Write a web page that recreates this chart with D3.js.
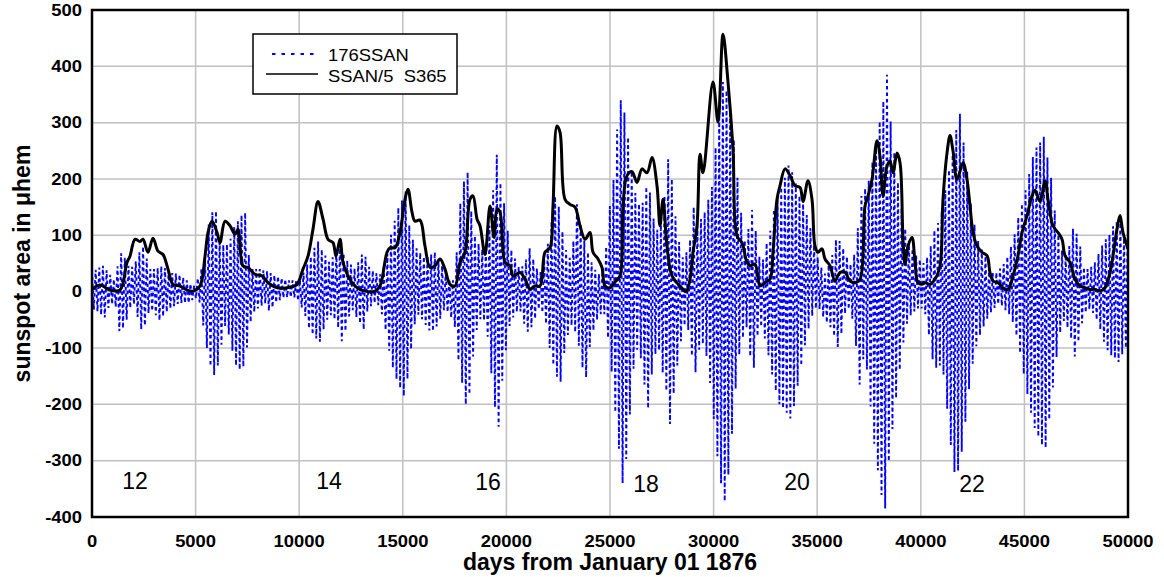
<!DOCTYPE html>
<html>
<head>
<meta charset="utf-8">
<script src="https://cdn.jsdelivr.net/npm/d3@7"></script>
<style>
  body { margin: 0; background: #fff; }
  text { font-family: Arial, "Liberation Sans", sans-serif; }
</style>
</head>
<body>
<svg id="chart" width="1164" height="577"></svg>
<script>

// S365 smoothed series (SSAN/5), [day, value]
var s365Points = [
  [0,4],[386,12],[869,3],[1351,3],[1689,52],[1834,63],[2075,93],[2317,89],
  [2461,93],[2703,70],[2944,95],[3185,72],[3427,66],[3668,40],[3909,13],
  [4247,10],[4585,3],[4875,1],[5212,10],[5454,63],[5599,105],[5792,125],
  [6033,105],[6178,87],[6419,125],[6660,117],[6902,102],[7046,111],[7288,46],
  [7529,43],[7867,31],[8205,28],[8494,16],[8832,8],[9170,6],[9556,8],[9894,13],
  [10183,40],[10425,63],[10666,111],[10907,160],[11149,129],[11390,93],
  [11631,87],[11776,63],[11969,93],[12114,52],[12355,28],[12693,10],[13176,1],
  [13658,1],[13900,10],[14238,70],[14382,78],[14624,78],[14865,105],
  [15106,164],[15251,182],[15444,141],[15589,125],[15830,127],[16071,81],
  [16313,43],[16554,46],[16796,58],[17037,40],[17278,13],[17519,10],[17761,52],
  [18002,70],[18243,164],[18388,170],[18581,129],[18726,117],[18967,66],
  [19209,152],[19402,96],[19547,147],[19692,141],[19933,52],[20174,46],
  [20319,28],[20657,34],[20898,22],[21139,4],[21381,10],[21622,10],[21863,70],
  [22104,78],[22249,152],[22442,294],[22587,283],[22828,164],[23070,155],
  [23311,150],[23552,117],[23794,93],[24035,105],[24180,70],[24421,58],
  [24614,43],[24759,10],[25000,7],[25242,17],[25483,28],[25628,152],
  [25821,206],[26062,213],[26303,194],[26545,218],[26786,211],[27027,238],
  [27269,188],[27413,117],[27558,164],[27751,81],[27993,28],[28379,10],
  [28668,0],[28861,22],[29006,70],[29199,117],[29344,244],[29489,211],
  [29971,372],[30213,301],[30454,457],[30695,372],[30937,253],[31130,99],
  [31371,87],[31612,52],[31757,46],[31998,49],[32240,10],[32481,16],[32722,22],
  [32867,70],[33060,164],[33205,188],[33446,218],[33688,206],[33929,188],
  [34170,185],[34315,160],[34556,197],[34749,164],[34894,81],[35039,70],
  [35232,76],[35377,58],[35618,46],[35859,19],[36101,34],[36342,34],[36583,19],
  [36825,16],[37066,22],[37307,152],[37452,170],[37645,199],[37886,268],
  [38031,240],[38176,170],[38369,223],[38514,232],[38659,211],[38852,246],
  [38997,229],[39141,93],[39238,49],[39383,81],[39576,96],[39720,52],
  [39865,16],[40058,13],[40203,16],[40444,13],[40686,22],[40927,46],
  [41072,164],[41265,246],[41410,277],[41554,250],[41747,199],[42037,229],
  [42230,199],[42375,152],[42520,105],[42713,81],[42954,70],[43195,64],
  [43340,34],[43485,19],[43726,16],[43968,7],[44209,4],[44450,28],[44692,64],
  [44885,105],[45126,135],[45367,170],[45512,180],[45753,160],[45995,197],
  [46139,164],[46381,117],[46622,105],[46815,93],[46960,64],[47201,52],
  [47443,22],[47684,10],[47925,7],[48166,4],[48408,4],[48649,1],[48891,7],
  [49132,34],[49277,64],[49470,111],[49614,135],[49759,105],[50000,76]
];

// 176SSAN: one crest and one trough every 176 days
var ssanStep = 176;
var ssanCrests = [
  37,39,43,46,38,30,22,45,68,60, 46,44,54,70,80,59,40,40,42,45,
  42,36,33,32,30,25,20,14,11,24, 41,62,119,141,143,94,83,84,94,115,
  125,136,140,65,40,40,40,38,36,33, 29,27,24,22,20,20,20,20,34,48,
  62,78,89,75,64,53,61,75,89,68, 55,48,41,52,66,62,44,37,33,31,
  46,67,101,126,149,162,178,118,92,77, 69,62,63,66,70,55,46,36,22,20,
  70,157,196,212,143,99,85,75,81,117, 180,243,193,157,108,74,59,44,45,57,
  77,58,41,35,57,85,125,169,151,107, 74,60,90,155,120,91,70,52,39,31,
  42,80,152,198,288,340,318,274,213,175, 156,158,186,176,130,110,118,170,235,200,
  134,88,61,70,92,150,121,129,141,163, 186,256,325,372,357,320,270,202,140,91,
  111,145,108,62,57,86,108,146,168,185, 202,224,212,192,170,156,136,113,83,61,
  43,32,47,65,92,90,77,62,49,66, 113,170,183,197,230,266,302,338,385,302,
  247,194,148,112,90,76,64,57,51,61, 81,109,122,143,180,216,243,287,316,265,
  213,156,119,90,75,63,41,33,34,41, 49,62,80,102,132,156,180,209,239,256,
  265,275,238,202,144,101,73,66,81,112, 103,80,43,40,44,52,67,82,93,101,
  116,125,128,101,95
];
var ssanTroughs = [
  -32,-35,-41,-46,-29,-22,-27,-70,-65,-50, -29,-22,-45,-67,-60,-38,-34,-42,-51,-44,
  -36,-30,-26,-22,-20,-20,-20,-15,-12,-19, -60,-100,-132,-148,-131,-94,-61,-76,-105,-131,
  -138,-133,-99,-54,-36,-30,-25,-21,-34,-28, -19,-15,-11,-10,-10,-10,-16,-28,-43,-65,
  -76,-83,-89,-67,-50,-42,-49,-64,-88,-70, -44,-33,-45,-56,-67,-35,-26,-20,-24,-40,
  -68,-105,-135,-155,-171,-185,-155,-102,-58,-41, -49,-59,-69,-70,-62,-48,-33,-36,-46,-63,
  -122,-162,-200,-182,-115,-68,-49,-51,-80,-145, -205,-240,-158,-104,-61,-46,-36,-35,-57,-71,
  -63,-48,-31,-37,-57,-100,-130,-151,-160,-109, -77,-60,-72,-96,-135,-152,-98,-69,-50,-40,
  -40,-82,-142,-214,-279,-340,-297,-218,-137,-103, -118,-165,-207,-147,-111,-104,-144,-176,-235,-181,
  -131,-88,-60,-68,-114,-143,-103,-93,-114,-162, -226,-292,-340,-372,-325,-252,-172,-112,-82,-63,
  -115,-135,-79,-62,-83,-113,-147,-176,-200,-207, -215,-225,-203,-167,-131,-95,-66,-43,-30,-31,
  -45,-55,-63,-79,-98,-75,-39,-31,-48,-96, -165,-120,-138,-204,-270,-317,-361,-385,-301,-244,
  -189,-139,-90,-57,-42,-35,-30,-30,-40,-77, -120,-135,-131,-147,-208,-272,-320,-318,-284,-231,
  -173,-128,-97,-77,-62,-48,-37,-29,-22,-25, -33,-40,-54,-78,-109,-146,-182,-215,-242,-257,
  -272,-277,-227,-170,-116,-73,-52,-64,-83,-115, -89,-56,-37,-31,-38,-50,-67,-89,-104,-113,
  -118,-125,-111,-100
];

var xTicks = [0,5000,10000,15000,20000,25000,30000,35000,40000,45000,50000];
var yTicks = [-400,-300,-200,-100,0,100,200,300,400,500];

// solar cycle numbers
var cycleNames = ['12','14','16','18','20','22'];
var cycleDays = [2075,11438,19112,26737,34025,42471];
var cycleVals = [-351,-351,-352,-355,-352,-355];

var legendNames = ['176SSAN', 'SSAN/5  S365'];

var svg = d3.select('#chart');

var x = d3.scaleLinear().domain([0, 50000]).range([92, 1128]);
var y = d3.scaleLinear().domain([-400, 500]).range([517, 10]);

// text with the slight horizontal stretch of the original
function label(g, px, py, str, opts) {
  var t = g.append('text')
    .attr('transform', 'translate(' + px + ',' + py + ') scale(' +
      (opts.sx || 1) + ',1)')
    .attr('text-anchor', opts.anchor || 'start')
    .attr('font-size', opts.size)
    .attr('font-weight', opts.weight || 'normal')
    .style('white-space', 'pre')
    .text(str);
  if (opts.dy) t.attr('dy', opts.dy);
  return t;
}

// grid
var grid = svg.append('g').attr('stroke', '#c0c0c0').attr('stroke-width', 1.5);
grid.selectAll('.gx').data(xTicks.slice(1, -1)).enter().append('line')
  .attr('x1', function(d) { return x(d); }).attr('x2', function(d) { return x(d); })
  .attr('y1', y(500)).attr('y2', y(-400));
grid.selectAll('.gy').data(yTicks.slice(1, -1)).enter().append('line')
  .attr('x1', x(0)).attr('x2', x(50000))
  .attr('y1', function(d) { return y(d); }).attr('y2', function(d) { return y(d); });

svg.append('clipPath').attr('id', 'plot-clip').append('rect')
  .attr('x', x(0)).attr('y', y(500))
  .attr('width', x(50000) - x(0)).attr('height', y(-400) - y(500));

// 176SSAN zigzag
var ssanPoints = [];
ssanCrests.forEach(function(v, i) {
  ssanPoints.push([i * ssanStep, v]);
  if (i < ssanTroughs.length) ssanPoints.push([i * ssanStep + ssanStep / 2, ssanTroughs[i]]);
});

var line = d3.line()
  .x(function(d) { return x(d[0]); })
  .y(function(d) { return y(d[1]); });

var plot = svg.append('g').attr('clip-path', 'url(#plot-clip)');

plot.append('path')
  .datum(ssanPoints)
  .attr('d', line)
  .attr('fill', 'none')
  .attr('stroke', '#0000ff')
  .attr('stroke-width', 1.9)
  .attr('stroke-dasharray', '3.5,3');

plot.append('path')
  .datum(s365Points)
  .attr('d', line.curve(d3.curveCatmullRom.alpha(0.5)))
  .attr('fill', 'none')
  .attr('stroke', '#000')
  .attr('stroke-width', 3)
  .attr('stroke-linejoin', 'round');

// frame
svg.append('rect')
  .attr('x', x(0)).attr('y', y(500))
  .attr('width', x(50000) - x(0)).attr('height', y(-400) - y(500))
  .attr('fill', 'none').attr('stroke', '#000').attr('stroke-width', 2.5);

// tick labels
var axes = svg.append('g').attr('fill', '#000');
yTicks.forEach(function(d) {
  label(axes, 82, y(d), String(d),
    { anchor: 'end', size: 16, weight: 'bold', sx: 1.15, dy: '0.35em' });
});
xTicks.forEach(function(d) {
  label(axes, x(d), 547, String(d),
    { anchor: 'middle', size: 16, weight: 'bold', sx: 1.15 });
});

// axis titles
label(axes, 610, 570, 'days from January 01 1876',
  { anchor: 'middle', size: 23, weight: 'bold' });
axes.append('text')
  .attr('transform', 'translate(30,' + ((y(500) + y(-400)) / 2) + ') rotate(-90)')
  .attr('text-anchor', 'middle')
  .attr('font-size', 23)
  .attr('font-weight', 'bold')
  .text('sunspot area in \u03bchem');

// cycle numbers
cycleNames.forEach(function(n, i) {
  label(axes, x(cycleDays[i]), y(cycleVals[i]), n,
    { anchor: 'middle', size: 23 });
});

// legend
var legend = svg.append('g');
legend.append('rect')
  .attr('x', 253).attr('y', 34).attr('width', 204).attr('height', 60)
  .attr('fill', '#fff').attr('stroke', '#000').attr('stroke-width', 1.5);
legend.append('line')
  .attr('x1', 272).attr('x2', 318).attr('y1', 54).attr('y2', 54)
  .attr('stroke', '#0000ff').attr('stroke-width', 2)
  .attr('stroke-dasharray', '3.5,6');
legend.append('line')
  .attr('x1', 266).attr('x2', 318).attr('y1', 74).attr('y2', 74)
  .attr('stroke', '#000').attr('stroke-width', 1.5);
label(legend, 328, 60.5, legendNames[0], { size: 16, sx: 1.15 });
label(legend, 328, 81.5, legendNames[1], { size: 16, sx: 1.15 });

</script>
</body>
</html>
